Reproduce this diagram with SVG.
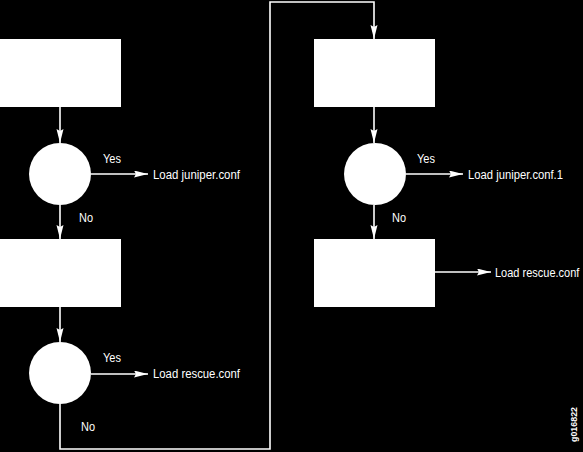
<svg xmlns="http://www.w3.org/2000/svg" width="583" height="452" viewBox="0 0 583 452">
<style>
.box{fill:#fff;stroke:none}
.dec{fill:#fff;stroke:none}
.ln{fill:none;stroke:#fff;stroke-width:1.6}
.t{font-family:"Liberation Sans",Arial,sans-serif;font-size:12.5px;fill:#fff}
</style>
<defs>
<marker id="ah" markerUnits="userSpaceOnUse" markerWidth="15" markerHeight="8" refX="14" refY="3.5" orient="auto">
<path d="M0,0 L14,3.5 L0,7 L2,3.5 z" fill="#fff"/>
</marker>
</defs>
<rect width="583" height="452" fill="#000"/>
<g id="connectors">
<line class="ln" x1="60" y1="107" x2="60" y2="143" marker-end="url(#ah)"/>
<line class="ln" x1="91" y1="174" x2="148" y2="174" marker-end="url(#ah)"/>
<line class="ln" x1="60" y1="205" x2="60" y2="239" marker-end="url(#ah)"/>
<line class="ln" x1="60" y1="307" x2="60" y2="342" marker-end="url(#ah)"/>
<line class="ln" x1="91" y1="374" x2="148" y2="374" marker-end="url(#ah)"/>
<polyline class="ln" points="60,404 60,449 270,449 270,2 374,2 374,39" marker-end="url(#ah)"/>
<line class="ln" x1="374" y1="107" x2="374" y2="143" marker-end="url(#ah)"/>
<line class="ln" x1="406" y1="174" x2="463" y2="174" marker-end="url(#ah)"/>
<line class="ln" x1="374" y1="205" x2="374" y2="239" marker-end="url(#ah)"/>
<line class="ln" x1="435" y1="272" x2="491" y2="272" marker-end="url(#ah)"/>
</g>
<g id="box1"><rect class="box" x="0" y="39" width="121" height="68"/></g>
<g id="dec1"><circle class="dec" cx="60" cy="174" r="31"/></g>
<g id="box2"><rect class="box" x="0" y="239" width="121" height="68"/></g>
<g id="dec2"><circle class="dec" cx="60" cy="373" r="31"/></g>
<g id="box3"><rect class="box" x="314" y="39" width="121" height="68"/></g>
<g id="dec3"><circle class="dec" cx="375" cy="174" r="31"/></g>
<g id="box4"><rect class="box" x="314" y="239" width="121" height="68"/></g>
<g id="labels">
<text class="t" x="103" y="163" textLength="18" lengthAdjust="spacingAndGlyphs">Yes</text>
<text class="t" x="153" y="179" textLength="87" lengthAdjust="spacingAndGlyphs">Load juniper.conf</text>
<text class="t" x="79" y="222" textLength="14" lengthAdjust="spacingAndGlyphs">No</text>
<text class="t" x="103" y="362" textLength="18" lengthAdjust="spacingAndGlyphs">Yes</text>
<text class="t" x="153" y="378" textLength="87" lengthAdjust="spacingAndGlyphs">Load rescue.conf</text>
<text class="t" x="81" y="431" textLength="14" lengthAdjust="spacingAndGlyphs">No</text>
<text class="t" x="417" y="163" textLength="18" lengthAdjust="spacingAndGlyphs">Yes</text>
<text class="t" x="468" y="179" textLength="95" lengthAdjust="spacingAndGlyphs">Load juniper.conf.1</text>
<text class="t" x="392" y="222" textLength="14" lengthAdjust="spacingAndGlyphs">No</text>
<text class="t" transform="translate(495,277) scale(0.88,1)">Load rescue.conf</text>
<text class="t" transform="translate(577,442) rotate(-90)" style="font-size:9.5px;font-weight:bold" textLength="35" lengthAdjust="spacingAndGlyphs">g016822</text>
</g>
</svg>
